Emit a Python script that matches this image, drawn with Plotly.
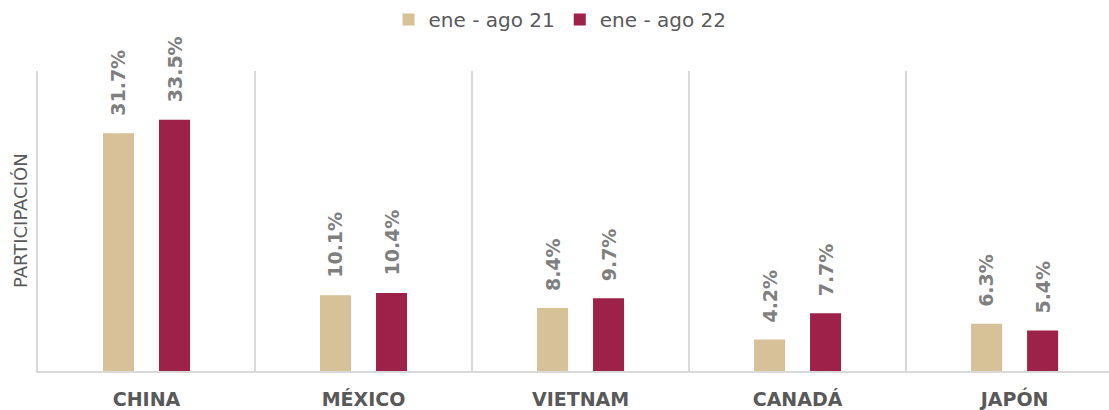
import plotly.graph_objects as go

categories = ["CHINA", "MÉXICO", "VIETNAM", "CANADÁ", "JAPÓN"]
series_names = ["ene - ago 21", "ene - ago 22"]
values_21 = [31.7, 10.1, 8.4, 4.2, 6.3]
values_22 = [33.5, 10.4, 9.7, 7.7, 5.4]
colors = ["#D6C199", "#9D2148"]

FONT = "DejaVu Sans"

fig = go.Figure()
for name, vals, col in zip(series_names, [values_21, values_22], colors):
    fig.add_trace(go.Bar(
        x=categories, y=vals, name=name, marker_color=col,
        marker_line_width=0,
        textposition="none",
        offsetgroup=name,
    ))

# value labels as rotated annotations above bars
offsets = [-0.129, 0.129]
for vals, off in zip([values_21, values_22], offsets):
    for i, v in enumerate(vals):
        fig.add_annotation(
            x=i + off, y=v, xref="x", yref="y",
            text=f"<b>{v:.1f}%</b>", textangle=-90, showarrow=False,
            xanchor="center", yanchor="bottom", yshift=15,
            font=dict(family=FONT, size=19, color="#7F7F7F"),
        )

# y-axis title
fig.add_annotation(
    text="PARTICIPACIÓN", xref="paper", yref="paper",
    x=-18 / 1071, y=0.5, xanchor="center", yanchor="middle",
    textangle=-90, showarrow=False,
    font=dict(family=FONT, size=18, color="#595959"),
)

fig.update_layout(
    width=1109, height=410,
    margin=dict(l=38, r=0, t=71, b=39, autoexpand=False),
    plot_bgcolor="white", paper_bgcolor="white",
    barmode="group", bargap=0.484, bargroupgap=0.446,
    legend=dict(orientation="h", x=0.505, xanchor="center", xref="container",
                y=1.0, yanchor="top", yref="container",
                font=dict(family=FONT, size=20, color="#595959"),
                itemwidth=30, traceorder="normal", tracegroupgap=0),
    xaxis=dict(
        type="category", range=[-0.5, 4.435], automargin=False,
        tickson="boundaries", showgrid=True, gridcolor="#D9D9D9", gridwidth=1.5,
        showline=True, linecolor="#D9D9D9", linewidth=2,
        ticks="", ticklabelstandoff=10,
        tickfont=dict(family=FONT, size=19, color="#595959", weight="bold"),
    ),
    yaxis=dict(
        range=[0, 40], showgrid=False, zeroline=False, showticklabels=False,
        automargin=False,
        showline=True, linecolor="#D9D9D9", linewidth=1.5,
    ),
)

fig.write_html("out.html", config={"displayModeBar": False},
               post_script="document.body.style.margin='0';document.body.style.overflow='hidden';")
